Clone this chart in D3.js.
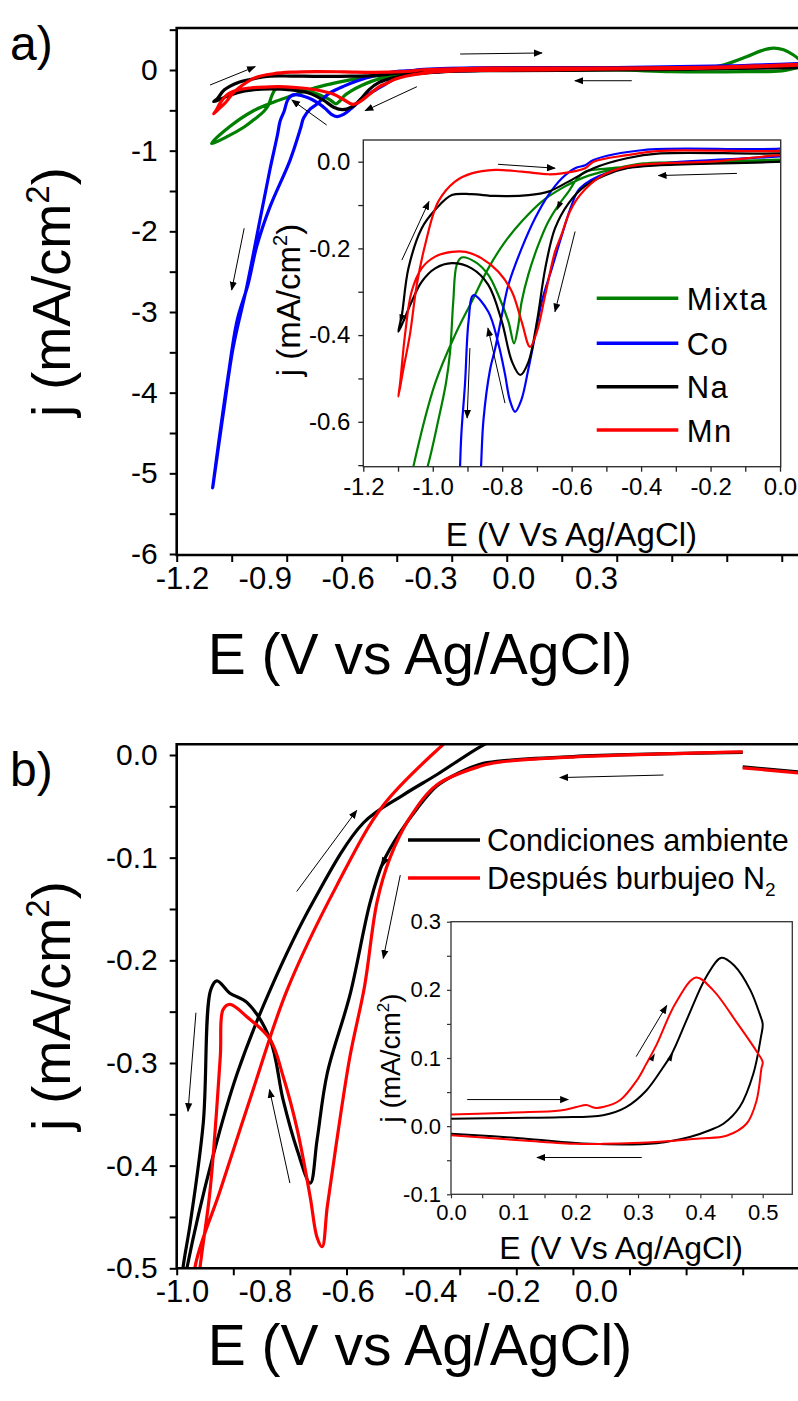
<!DOCTYPE html>
<html>
<head>
<meta charset="utf-8">
<script src="https://cdn.jsdelivr.net/npm/d3@7"></script>
<style>
  body { margin: 0; background: #fff; }
  text { font-family: Arial, "Liberation Sans", sans-serif; fill: #000; }
</style>
</head>
<body>
<svg id="chart" width="798" height="1401"></svg>
<script>
// ---------- panel a : CV of the four samples, [E (V), j (mA/cm2)] ----------
var mixta = [[0.5,0.04],[0.45,-0.01],[0.35,-0.02],[0.15,-0.02],[0.0,0.0],[-0.2,-0.003],[-0.345,-0.006],[-0.44,-0.012],
  [-0.5,-0.016],[-0.561,-0.023],[-0.585,-0.04],[-0.609,-0.069],[-0.638,-0.1],[-0.667,-0.138],[-0.696,-0.192],[-0.725,-0.261],
  [-0.744,-0.323],[-0.755,-0.384],[-0.766,-0.419],[-0.782,-0.369],[-0.811,-0.308],[-0.84,-0.261],[-0.878,-0.231],[-0.917,-0.221],
  [-0.931,-0.238],[-0.941,-0.323],[-0.95,-0.438],[-0.962,-0.511],[-0.985,-0.6],[-1.015,-0.704],[-1.06,-0.82],[-1.105,-0.91],
  [-1.056,-0.704],[-0.993,-0.511],[-0.936,-0.4],[-0.888,-0.323],[-0.84,-0.246],[-0.792,-0.185],[-0.744,-0.138],[-0.686,-0.092],
  [-0.628,-0.061],[-0.561,-0.035],[-0.489,-0.019],[-0.393,-0.004],[-0.2,0.0],[0.0,0.005],[0.15,0.01],[0.25,0.03],[0.29,0.062],
  [0.354,0.165],[0.395,0.24],[0.427,0.27],[0.455,0.25],[0.482,0.186],[0.5,0.12]];
var co = [[0.5,0.06],[0.3,0.03],[0.0,0.012],[-0.345,-0.004],[-0.489,-0.023],[-0.576,-0.061],[-0.6,-0.1],[-0.628,-0.169],
  [-0.657,-0.246],[-0.686,-0.323],[-0.705,-0.4],[-0.725,-0.48],[-0.745,-0.55],[-0.763,-0.577],[-0.778,-0.55],[-0.792,-0.49],
  [-0.811,-0.42],[-0.84,-0.346],[-0.883,-0.308],[-0.897,-0.369],[-0.907,-0.511],[-0.918,-0.634],[-0.925,-0.8],[-0.946,-1.24],
  [-0.973,-1.86],[-1.009,-2.69],[-1.046,-3.44],[-1.073,-4.26],[-1.102,-5.18],[-1.085,-4.6],[-1.06,-3.8],[-1.035,-3.1],
  [-1.005,-2.65],[-0.982,-2.19],[-0.946,-1.7],[-0.891,-1.12],[-0.862,-0.72],[-0.854,-0.596],[-0.835,-0.48],[-0.82,-0.43],
  [-0.801,-0.354],[-0.782,-0.284],[-0.744,-0.2],[-0.705,-0.13],[-0.667,-0.077],[-0.628,-0.038],[-0.59,-0.015],[-0.561,-0.008],
  [-0.537,0.004],[-0.393,0.027],[0.0,0.03],[0.3,0.05],[0.5,0.08]];
var na = [[0.5,0.03],[0.2,0.01],[0.0,0.0],[-0.345,-0.008],[-0.441,-0.015],[-0.5,-0.03],[-0.561,-0.056],[-0.609,-0.096],
  [-0.648,-0.154],[-0.676,-0.246],[-0.7,-0.369],[-0.724,-0.461],[-0.748,-0.492],[-0.772,-0.461],[-0.801,-0.369],[-0.84,-0.284],
  [-0.888,-0.246],[-0.945,-0.234],[-0.993,-0.246],[-1.032,-0.277],[-1.061,-0.323],[-1.085,-0.369],[-1.099,-0.392],
  [-1.089,-0.354],[-1.07,-0.246],[-1.032,-0.154],[-0.993,-0.111],[-0.945,-0.077],[-0.888,-0.075],[-0.82,-0.079],[-0.724,-0.077],
  [-0.667,-0.069],[-0.609,-0.046],[-0.537,-0.015],[-0.441,0.008],[-0.345,0.019],[0.0,0.019],[0.3,0.03],[0.5,0.05]];
var mn = [[0.5,0.06],[0.2,0.02],[0.0,0.015],[-0.2,0.0],[-0.345,-0.004],[-0.441,-0.0115],[-0.518,-0.035],[-0.576,-0.077],
  [-0.605,-0.115],[-0.63,-0.17],[-0.648,-0.208],[-0.676,-0.307],[-0.7,-0.392],[-0.72,-0.427],[-0.744,-0.369],[-0.772,-0.3],
  [-0.811,-0.254],[-0.859,-0.223],[-0.905,-0.208],[-0.945,-0.208],[-0.993,-0.219],[-1.032,-0.246],[-1.061,-0.3],[-1.08,-0.4],
  [-1.094,-0.511],[-1.099,-0.542],[-1.085,-0.48],[-1.066,-0.4],[-1.046,-0.284],[-1.022,-0.192],[-0.984,-0.092],[-0.936,-0.046],
  [-0.888,-0.027],[-0.82,-0.019],[-0.743,-0.023],[-0.667,-0.029],[-0.628,-0.027],[-0.561,-0.015],[-0.537,0.0],[-0.441,0.015],
  [-0.345,0.025],[0.0,0.025],[0.3,0.04],[0.5,0.07]];
var namesA = ["Mixta", "Co", "Na", "Mn"];
var colorsA = ["#008000", "#0000ff", "#000000", "#ff0000"];
var aXTicks = [-1.2, -0.9, -0.6, -0.3, 0.0, 0.3];
var aYTicks = [0, -1, -2, -3, -4, -5, -6];
var aiXTicks = [-1.2, -1.0, -0.8, -0.6, -0.4, -0.2, 0.0];
var aiYTicks = [0.0, -0.2, -0.4, -0.6];
// arrows [E1, j1, E2, j2]; heads on curves [E, j, angle]
var arrowsA = [[-1.109,-0.186,-0.986,0.041],[-0.427,0.198,-0.204,0.211],[0.041,-0.133,-0.114,-0.133],
  [-0.545,-0.207,-0.686,-0.505],[-0.791,-0.682,-0.886,-0.372],[-1.016,-1.962,-1.05,-2.727]];
var arrowsAi = [[-1.089,-0.227,-1.011,-0.092],[-0.812,-0.006,-0.648,-0.015],[-0.124,-0.027,-0.35,-0.032],
  [-0.59,-0.161,-0.648,-0.346],[-0.893,-0.43,-0.901,-0.591],[-0.792,-0.557,-0.841,-0.384]];
var headsAi = [[-1.09,-0.36,195],[-0.636,-0.1,205]];

// ---------- panel b : ambient vs N2 bubbled ----------
var ambiente = [[0.1,-0.0165],[0.0,-0.0115],null,[0.0,0.0025],[-0.3,-0.0015],[-0.43,-0.006],[-0.464,-0.009],[-0.5,-0.017],
  [-0.54,-0.03],[-0.575,-0.052],[-0.605,-0.075],[-0.635,-0.104],[-0.658,-0.143],[-0.694,-0.234],[-0.734,-0.31],[-0.752,-0.375],
  [-0.764,-0.417],[-0.787,-0.385],[-0.812,-0.336],[-0.835,-0.277],[-0.876,-0.241],[-0.906,-0.232],[-0.929,-0.22],[-0.94,-0.229],
  [-0.953,-0.358],[-0.976,-0.456],[-0.989,-0.5],[-1.0,-0.56],[-0.982,-0.5],[-0.936,-0.391],[-0.893,-0.31],[-0.835,-0.229],
  [-0.759,-0.143],[-0.67,-0.066],[-0.6,-0.039],[-0.54,-0.019],[-0.464,0.008],[-0.42,0.02]];
var burbujeo = [[0.1,-0.0175],[0.0,-0.0125],null,[0.0,0.003],[-0.3,-0.002],[-0.43,-0.007],[-0.464,-0.011],[-0.54,-0.029],
  [-0.588,-0.061],[-0.623,-0.1],[-0.646,-0.143],[-0.668,-0.225],[-0.694,-0.294],[-0.717,-0.375],[-0.734,-0.44],[-0.743,-0.479],
  [-0.752,-0.47],[-0.764,-0.431],[-0.787,-0.365],[-0.812,-0.313],[-0.835,-0.277],[-0.876,-0.255],[-0.906,-0.243],[-0.918,-0.248],
  [-0.923,-0.294],[-0.941,-0.424],[-0.959,-0.5],[-0.97,-0.56],[-0.968,-0.5],[-0.923,-0.424],[-0.865,-0.326],[-0.805,-0.229],
  [-0.717,-0.127],[-0.635,-0.049],[-0.53,0.01],[-0.51,0.02]];
var ambienteOx = [[0.0,0.011],[0.1,0.012],[0.175,0.013],[0.244,0.016],[0.281,0.028],[0.313,0.052],[0.34,0.086],[0.354,0.106],
  [0.38,0.16],[0.41,0.22],[0.434,0.247],[0.455,0.235],[0.48,0.2],[0.495,0.165],[0.5,0.15],[0.497,0.13],[0.485,0.077],
  [0.463,0.028],[0.437,0.0035],[0.415,-0.006],[0.383,-0.016],[0.33,-0.025],[0.223,-0.026],[0.116,-0.018],[0.0,-0.011]];
var burbujeoOx = [[0.0,0.017],[0.1,0.02],[0.175,0.023],[0.201,0.028],[0.217,0.031],[0.23,0.027],[0.244,0.028],[0.271,0.038],
  [0.298,0.067],[0.313,0.091],[0.33,0.12],[0.36,0.18],[0.393,0.218],[0.42,0.2],[0.46,0.15],[0.49,0.11],[0.5,0.094],
  [0.498,0.085],[0.49,0.037],[0.474,0.0035],[0.442,-0.014],[0.399,-0.018],[0.335,-0.023],[0.244,-0.026],[0.201,-0.026],
  [0.116,-0.021],[0.0,-0.0135]];
var namesB = ["Condiciones ambiente", "Después burbujeo N"];
var colorsB = ["#000000", "#ff0000"];
var bXTicks = [-1.0, -0.8, -0.6, -0.4, -0.2, 0.0];
var bYTicks = [0.0, -0.1, -0.2, -0.3, -0.4, -0.5];
var biXTicks = [0.0, 0.1, 0.2, 0.3, 0.4, 0.5];
var biYTicks = [-0.1, 0.0, 0.1, 0.2, 0.3];
var arrowsB = [[-0.788,-0.133,-0.682,-0.054],[-0.605,-0.117,-0.635,-0.198],[-0.966,-0.251,-0.98,-0.347],
  [-0.8,-0.417,-0.836,-0.326],[-0.14,-0.0195,-0.323,-0.022]];
var headsB = [[-0.634,-0.104,205]];
var arrowsBi = [[0.026,0.039,0.188,0.039],[0.306,-0.046,0.138,-0.046],[0.297,0.102,0.346,0.177]];
var headsBi = [[0.323,0.1,28],[0.352,0.1,28]];

var svg = d3.select("#chart");
var fmt = function(d) { return d3.format(".1f")(d).replace("\u2212", "-"); };
var near = function(list) { return function(d) { return list.some(function(t) { return Math.abs(t - d) < 1e-6; }); }; };

svg.append("defs").append("marker")
    .attr("id", "head").attr("viewBox", "0 0 10 10").attr("refX", 9).attr("refY", 5)
    .attr("markerWidth", 9).attr("markerHeight", 9).attr("markerUnits", "userSpaceOnUse")
    .attr("orient", "auto")
  .append("path").attr("d", "M0,1L10,5L0,9Z").attr("fill", "#000");

function clip(id, x0, y0, x1, y1) {
  svg.select("defs").append("clipPath").attr("id", id)
    .append("rect").attr("x", x0).attr("y", y0).attr("width", x1 - x0).attr("height", y1 - y0);
}

function curves(g, data, x, y, color, width, clipId) {
  var line = d3.line().defined(function(d) { return d !== null; })
    .x(function(d) { return x(d[0]); }).y(function(d) { return y(d[1]); })
    .curve(d3.curveCatmullRom.alpha(0.5));
  g.append("path").datum(data).attr("d", line).attr("fill", "none")
    .attr("stroke", color).attr("stroke-width", width).attr("stroke-linejoin", "round")
    .attr("clip-path", "url(#" + clipId + ")");
}

function arrows(g, list, x, y) {
  g.selectAll(null).data(list).enter().append("line")
    .attr("x1", function(d) { return x(d[0]); }).attr("y1", function(d) { return y(d[1]); })
    .attr("x2", function(d) { return x(d[2]); }).attr("y2", function(d) { return y(d[3]); })
    .attr("stroke", "#000").attr("stroke-width", 1).attr("marker-end", "url(#head)");
}

function heads(g, list, x, y, size) {
  g.selectAll(null).data(list).enter().append("path")
    .attr("d", d3.symbol(d3.symbolTriangle, size))
    .attr("transform", function(d) { return "translate(" + x(d[0]) + "," + y(d[1]) + ") rotate(" + d[2] + ") scale(0.7,1.3)"; })
    .attr("fill", "#000");
}

function ticksAxis(g, axis, width, color, fontSize) {
  g.call(axis);
  g.select(".domain").remove();
  g.selectAll(".tick line").attr("stroke", color).attr("stroke-width", width);
  g.selectAll(".tick text").attr("font-size", fontSize).attr("font-family", "Arial, 'Liberation Sans', sans-serif")
    .attr("fill", color);
}

// ===================== panel a main =====================
var xA = d3.scaleLinear().domain([-1.2, 0.5]).range([176.7, 800.1]);
var yA = d3.scaleLinear().domain([0, -6]).range([70, 554]);
var xALab = d3.scaleLinear().domain([-1.2, 0.3]).range([182, 596]);   // where the printed labels sit
clip("clipA", 176.7, 28, 798, 555);
var gA = svg.append("g");

var seriesA = [mixta, co, na, mn];
seriesA.forEach(function(s, i) { curves(gA, s, xA, yA, colorsA[i], 3.2, "clipA"); });
arrows(gA, arrowsA, xA, yA);

ticksAxis(gA.append("g").attr("transform", "translate(176.7,0)"),
  d3.axisLeft(yA).tickValues(d3.range(-6, 0.51, 0.5)).tickSize(7).tickPadding(12)
    .tickFormat(function(d) { return aYTicks.indexOf(d) >= 0 ? String(d).replace("\u2212", "-") : ""; }),
  2, "#000", 30);
ticksAxis(gA.append("g").attr("transform", "translate(0,555)"),
  d3.axisBottom(xA).tickValues(d3.range(-1.2, 0.46, 0.15)).tickSize(7).tickFormat(""), 2, "#000", 30);
ticksAxis(gA.append("g").attr("transform", "translate(0,555)"),
  d3.axisBottom(xALab).tickValues(aXTicks).tickSize(0).tickPadding(12).tickFormat(fmt), 0, "#000", 31);
gA.append("path").attr("d", "M800,28H176.7V555H800").attr("fill", "none").attr("stroke", "#000").attr("stroke-width", 2.6);

// ===================== panel a inset =====================
var xAi = d3.scaleLinear().domain([-1.2, 0.0]).range([363.3, 780]);
var yAi = d3.scaleLinear().domain([0.0, -0.6]).range([161.7, 421.8]);
clip("clipAi", 363.3, 140, 780.7, 466.7);
var gAi = svg.append("g");
gAi.append("rect").attr("x", 363.3).attr("y", 140).attr("width", 417.4).attr("height", 326.7).attr("fill", "#fff");
seriesA.forEach(function(s, i) { curves(gAi, s, xAi, yAi, colorsA[i], 2.2, "clipAi"); });
arrows(gAi, arrowsAi, xAi, yAi);
heads(gAi, headsAi, xAi, yAi, 30);
gAi.append("rect").attr("x", 363.3).attr("y", 140).attr("width", 417.4).attr("height", 326.7)
  .attr("fill", "none").attr("stroke", "#333").attr("stroke-width", 1.4);
ticksAxis(gAi.append("g").attr("transform", "translate(363.3,0)"),
  d3.axisLeft(yAi).tickValues(d3.range(-0.7, 0.01, 0.1)).tickSize(5).tickPadding(8)
    .tickFormat(function(d) { return near(aiYTicks)(d) ? fmt(d) : ""; }),
  1.3, "#222", 24);
ticksAxis(gAi.append("g").attr("transform", "translate(0,466.7)"),
  d3.axisBottom(xAi).tickValues(d3.range(-1.2, 0.01, 0.1)).tickSize(5).tickPadding(6)
    .tickFormat(function(d) { return near(aiXTicks)(d) ? fmt(d) : ""; }),
  1.3, "#222", 24);
gAi.append("text").attr("x", 571.5).attr("y", 546).attr("text-anchor", "middle").attr("font-size", 33)
  .text("E (V Vs Ag/AgCl)");
var tAi = gAi.append("text").attr("transform", "translate(300,300) rotate(-90)").attr("text-anchor", "middle")
  .attr("font-size", 33);
tAi.append("tspan").text("j (mA/cm");
tAi.append("tspan").attr("font-size", 20).attr("dy", -13).text("2");
tAi.append("tspan").attr("dy", 13).text(")");

// legend a
var legA = gAi.selectAll(".legA").data(namesA).enter().append("g")
  .attr("transform", function(d, i) { return "translate(0," + [298.3, 343.3, 386.7, 430][i] + ")"; });
legA.append("line").attr("x1", 596.7).attr("x2", 678.3).attr("stroke-width", 3.5)
  .attr("stroke", function(d, i) { return colorsA[i]; });
legA.append("text").attr("x", 686.7).attr("y", 11.5).attr("font-size", 31).attr("letter-spacing", 1.5)
  .text(function(d) { return d; });

// ===================== panel b main =====================
var xB = d3.scaleLinear().domain([-1.0, 0.0]).range([176.7, 742.7]);
var yB = d3.scaleLinear().domain([0.0, -0.5]).range([755, 1268.3]);
var xBLab = d3.scaleLinear().domain([-1.0, 0.0]).range([182, 596]);
clip("clipB", 176.7, 744.3, 798, 1268.3);
var gB = svg.append("g");
curves(gB, ambiente, xB, yB, colorsB[0], 3.2, "clipB");
curves(gB, burbujeo, xB, yB, colorsB[1], 3.2, "clipB");
arrows(gB, arrowsB, xB, yB);
heads(gB, headsB, xB, yB, 45);
ticksAxis(gB.append("g").attr("transform", "translate(176.7,0)"),
  d3.axisLeft(yB).tickValues(d3.range(-0.5, 0.001, 0.05)).tickSize(7).tickPadding(12)
    .tickFormat(function(d) { return near(bYTicks)(d) ? fmt(d) : ""; }),
  2, "#000", 30);
ticksAxis(gB.append("g").attr("transform", "translate(0,1268.3)"),
  d3.axisBottom(xB).tickValues(d3.range(-1.0, 0.101, 0.1)).tickSize(7).tickFormat(""), 2, "#000", 30);
ticksAxis(gB.append("g").attr("transform", "translate(0,1268.3)"),
  d3.axisBottom(xBLab).tickValues(bXTicks).tickSize(0).tickPadding(12).tickFormat(fmt), 0, "#000", 31);
gB.append("path").attr("d", "M800,744.3H176.7V1268.3H800").attr("fill", "none").attr("stroke", "#000").attr("stroke-width", 2.6);

// legend b
var legB = gB.selectAll(".legB").data(namesB).enter().append("g")
  .attr("transform", function(d, i) { return "translate(0," + [840, 878][i] + ")"; });
legB.append("line").attr("x1", 408).attr("x2", 480).attr("stroke-width", 3.5)
  .attr("stroke", function(d, i) { return colorsB[i]; });
var legBt = legB.append("text").attr("x", 487).attr("y", 10.5).attr("font-size", 30.5)
  .text(function(d) { return d; });
legBt.filter(function(d, i) { return i === 1; }).append("tspan").attr("font-size", 19).attr("dy", 7).text("2");

// ===================== panel b inset =====================
var xBi = d3.scaleLinear().domain([0, 0.5]).range([451, 762.7]);
var yBi = d3.scaleLinear().domain([-0.1, 0.3]).range([1194.3, 921.7]);
clip("clipBi", 451, 921.7, 792.3, 1194.3);
var gBi = svg.append("g");
gBi.append("rect").attr("x", 451).attr("y", 921.7).attr("width", 341.3).attr("height", 272.6).attr("fill", "#fff");
curves(gBi, ambienteOx, xBi, yBi, colorsB[0], 2, "clipBi");
curves(gBi, burbujeoOx, xBi, yBi, colorsB[1], 2, "clipBi");
arrows(gBi, arrowsBi, xBi, yBi);
heads(gBi, headsBi, xBi, yBi, 22);
gBi.append("rect").attr("x", 451).attr("y", 921.7).attr("width", 341.3).attr("height", 272.6)
  .attr("fill", "none").attr("stroke", "#333").attr("stroke-width", 1.3);
ticksAxis(gBi.append("g").attr("transform", "translate(451,0)"),
  d3.axisLeft(yBi).tickValues(d3.range(-0.1, 0.301, 0.05)).tickSize(4).tickPadding(6)
    .tickFormat(function(d) { return near(biYTicks)(d) ? fmt(d) : ""; }),
  1.2, "#333", 22);
ticksAxis(gBi.append("g").attr("transform", "translate(0,1194.3)"),
  d3.axisBottom(xBi).tickValues(d3.range(0, 0.55, 0.05)).tickSize(4).tickPadding(6)
    .tickFormat(function(d) { return near(biXTicks)(d) ? fmt(d) : ""; }),
  1.2, "#333", 22);
gBi.append("text").attr("x", 621).attr("y", 1259).attr("text-anchor", "middle").attr("font-size", 32)
  .attr("fill", "#222").text("E (V Vs Ag/AgCl)");
var tBi = gBi.append("text").attr("transform", "translate(400,1058) rotate(-90)").attr("text-anchor", "middle")
  .attr("font-size", 28).attr("fill", "#222");
tBi.append("tspan").text("j (mA/cm");
tBi.append("tspan").attr("font-size", 17).attr("dy", -11).text("2");
tBi.append("tspan").attr("dy", 11).text(")");

// ===================== titles =====================
function yTitle(cx, cy) {
  var t = svg.append("text").attr("transform", "translate(" + cx + "," + cy + ") rotate(-90)")
    .attr("text-anchor", "middle").attr("font-size", 54);
  t.append("tspan").text("j (mA/cm");
  t.append("tspan").attr("font-size", 33).attr("dy", -21).text("2");
  t.append("tspan").attr("dy", 21).text(")");
}
yTitle(70, 292);
yTitle(70, 1006);
svg.append("text").attr("x", 420).attr("y", 674).attr("text-anchor", "middle").attr("font-size", 57).text("E (V vs Ag/AgCl)");
svg.append("text").attr("x", 420).attr("y", 1365).attr("text-anchor", "middle").attr("font-size", 57).text("E (V vs Ag/AgCl)");
svg.append("text").attr("x", 10).attr("y", 60).attr("font-size", 48).text("a)");
svg.append("text").attr("x", 10).attr("y", 786).attr("font-size", 48).text("b)");
</script>
</body>
</html>
